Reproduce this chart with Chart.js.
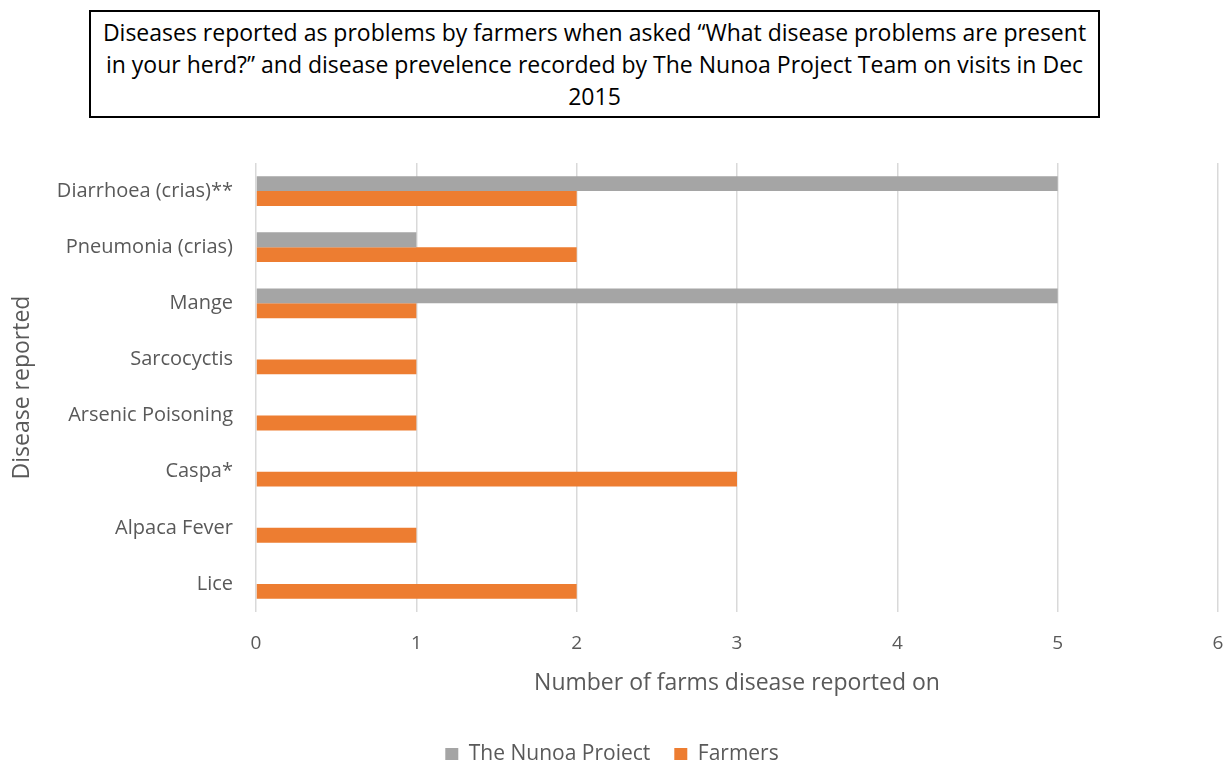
<!DOCTYPE html>
<html>
<head>
<meta charset="utf-8">
<script src="https://cdn.jsdelivr.net/npm/chart.js@4/dist/chart.umd.min.js"></script>
<style>
  html, body { margin: 0; padding: 0; background: #fff; overflow: hidden; }
  #wrap { position: relative; width: 1224px; height: 760px; }
  #chart-box { position: absolute; left: 0; top: 0; width: 1224px; height: 775px; }
  #title {
    position: absolute; left: 89px; top: 10px; width: 1011px; height: 108px;
    box-sizing: border-box; border: 2px solid #000; background: #fff;
    font-family: "Open Sans", Lato, sans-serif; font-size: 23px; line-height: 32px;
    text-align: center; color: #000; padding: 4px 0 0 0; white-space: nowrap;
  }
</style>
</head>
<body>
<div id="wrap">
  <div id="chart-box"><canvas id="chart"></canvas></div>
  <div id="title">Diseases reported as problems by farmers when asked “What disease problems are present<br>in your herd?” and disease prevelence recorded by The Nunoa Project Team on visits in Dec<br>2015</div>
</div>
<script>
const diseases = ['Diarrhoea (crias)**', 'Pneumonia (crias)', 'Mange', 'Sarcocyctis', 'Arsenic Poisoning', 'Caspa*', 'Alpaca Fever', 'Lice'];
const nunoaProject = [5, 1, 5, 0, 0, 0, 0, 0];
const farmers = [2, 2, 1, 1, 1, 3, 1, 2];
const xTicks = [0, 1, 2, 3, 4, 5, 6];

const textColor = '#595959';
const fontFamily = '"Open Sans", Lato, sans-serif';

document.addEventListener("DOMContentLoaded", function() {
    const ctx = document.getElementById('chart').getContext('2d');

    new Chart(ctx, {
        type: 'bar',
        data: {
            labels: diseases,
            datasets: [{
                label: 'The Nunoa Project',
                data: nunoaProject,
                backgroundColor: '#a5a5a5',
                categoryPercentage: 0.53,
                barPercentage: 1.0
            }, {
                label: 'Farmers',
                data: farmers,
                backgroundColor: '#ed7d31',
                categoryPercentage: 0.53,
                barPercentage: 1.0
            }]
        },
        options: {
            indexAxis: 'y',
            responsive: true,
            maintainAspectRatio: false,
            animation: false,
            layout: { padding: { top: 163, right: 0, left: 0, bottom: 0 } },
            scales: {
                x: {
                    min: 0,
                    max: 6,
                    afterBuildTicks: function(scale) {
                        scale.ticks = xTicks.map(v => ({ value: v }));
                    },
                    afterFit: function(scale) {
                        scale.height = 108;
                        scale.paddingRight = 6;
                        scale.paddingLeft = 0;
                    },
                    grid: { color: '#d9d9d9', lineWidth: 1.5, drawTicks: false },
                    border: { display: false },
                    ticks: {
                        color: textColor,
                        font: { family: fontFamily, size: 19 },
                        padding: 20
                    },
                    title: {
                        display: true,
                        text: 'Number of farms disease reported on',
                        color: textColor,
                        font: { family: fontFamily, size: 23 },
                        padding: { top: 0, bottom: 23 }
                    }
                },
                y: {
                    afterFit: function(scale) { scale.width = 256; },
                    grid: { display: false },
                    border: { display: false },
                    ticks: {
                        color: textColor,
                        font: { family: fontFamily, size: 20 },
                        padding: 15
                    },
                    title: {
                        display: true,
                        text: 'Disease reported',
                        color: textColor,
                        font: { family: fontFamily, size: 23 },
                        padding: { top: 9, bottom: 0 }
                    }
                }
            },
            plugins: {
                legend: {
                    position: 'bottom',
                    labels: {
                        color: textColor,
                        font: { family: fontFamily, size: 21 },
                        boxWidth: 13,
                        boxHeight: 13,
                        padding: 24
                    }
                },
                tooltip: { enabled: false }
            }
        }
    });
});
</script>
</body>
</html>
